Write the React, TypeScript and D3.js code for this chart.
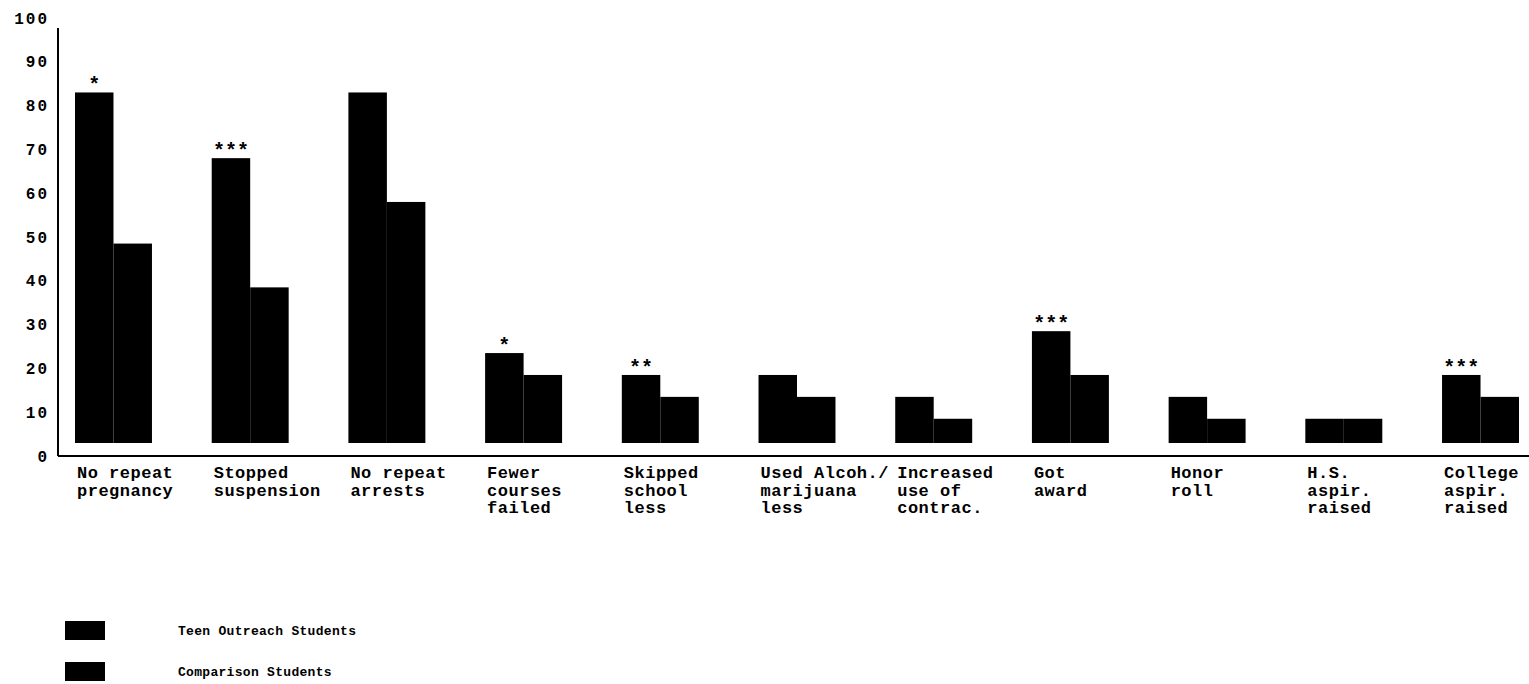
import * as d3 from "d3";

// outcome categories (label lines as printed under each pair of bars)
const categories = [
  ["No repeat", "pregnancy"],
  ["Stopped", "suspension"],
  ["No repeat", "arrests"],
  ["Fewer", "courses", "failed"],
  ["Skipped", "school", "less"],
  ["Used Alcoh./", "marijuana", "less"],
  ["Increased", "use of", "contrac."],
  ["Got", "award"],
  ["Honor", "roll"],
  ["H.S.", "aspir.", "raised"],
  ["College", "aspir.", "raised"],
];

// percent of students
const teenOutreach = [83, 68, 83, 23.5, 18.5, 18.5, 13.5, 28.5, 13.5, 8.5, 18.5];
const comparison = [48.5, 38.5, 58, 18.5, 13.5, 13.5, 8.5, 18.5, 8.5, 8.5, 13.5];
const significance = ["*", "***", "", "*", "**", "", "", "***", "", "", "***"];

const yTicks = [0, 10, 20, 30, 40, 50, 60, 70, 80, 90, 100];
const seriesNames = ["Teen Outreach Students", "Comparison Students"];

const width = 1529;
const height = 684;
const font = "'Liberation Mono', 'DejaVu Sans Mono', monospace";

export default function App() {
  const ids = categories.map((_, i) => String(i));

  const x = d3.scaleBand<string>().domain(ids).range([75, 1519]).paddingInner(0.437).paddingOuter(0);
  const xSub = d3.scaleBand<string>().domain(["teen", "comp"]).range([0, x.bandwidth()]);
  const y = d3.scaleLinear().domain([0, 100]).range([456, 18]);

  const axisX = 58;
  const barGap = 13; // bars sit a little above the base line in the original

  const rows = ids.map((id, i) => ({
    id,
    lines: categories[i],
    teen: teenOutreach[i],
    comp: comparison[i],
    sig: significance[i],
  }));

  return (
    <svg
      width={width}
      height={height}
      style={{ position: "fixed", left: 0, top: 0, background: "#fff" }}
      fontFamily={font}
    >
      <rect width={width} height={height} fill="#fff" />

      {/* y axis */}
      <line x1={axisX} x2={axisX} y1={y(100) + 10} y2={y(0)} stroke="#000" strokeWidth={2} />
      {yTicks.map((t) => (
        <text
          key={t}
          x={49}
          y={y(t)}
          dy="0.35em"
          textAnchor="end"
          fontSize={16}
          fontWeight="bold"
          letterSpacing={2}
        >
          {t}
        </text>
      ))}

      {/* x base line */}
      <line x1={axisX} x2={width} y1={y(0)} y2={y(0)} stroke="#000" strokeWidth={2} />

      {/* bars */}
      {rows.map((r) => {
        const x0 = x(r.id) as number;
        const base = y(0) - barGap;
        return (
          <g key={r.id}>
            <rect
              x={x0 + (xSub("teen") as number)}
              y={y(r.teen)}
              width={xSub.bandwidth()}
              height={base - y(r.teen)}
              fill="#000"
            />
            <rect
              x={x0 + (xSub("comp") as number)}
              y={y(r.comp)}
              width={xSub.bandwidth()}
              height={base - y(r.comp)}
              fill="#000"
            />
            {r.sig && (
              <text
                x={x0 + (xSub("teen") as number) + xSub.bandwidth() / 2}
                y={y(r.teen) - 1}
                textAnchor="middle"
                fontSize={20}
                fontWeight="bold"
              >
                {r.sig}
              </text>
            )}
            {r.lines.map((line, j) => (
              <text
                key={j}
                x={x0 + 2}
                y={478 + j * 17.5}
                fontSize={17}
                fontWeight="bold"
                letterSpacing={0.5}
                style={{ whiteSpace: "pre" }}
              >
                {line}
              </text>
            ))}
          </g>
        );
      })}

      {/* legend */}
      {seriesNames.map((name, i) => (
        <g key={name} transform={`translate(65,${621 + i * 41})`}>
          <rect width={40} height={19} fill="#000" />
          <text x={113} y={9} dy="0.35em" fontSize={13} fontWeight="bold" letterSpacing={0.3}>
            {name}
          </text>
        </g>
      ))}
    </svg>
  );
}
